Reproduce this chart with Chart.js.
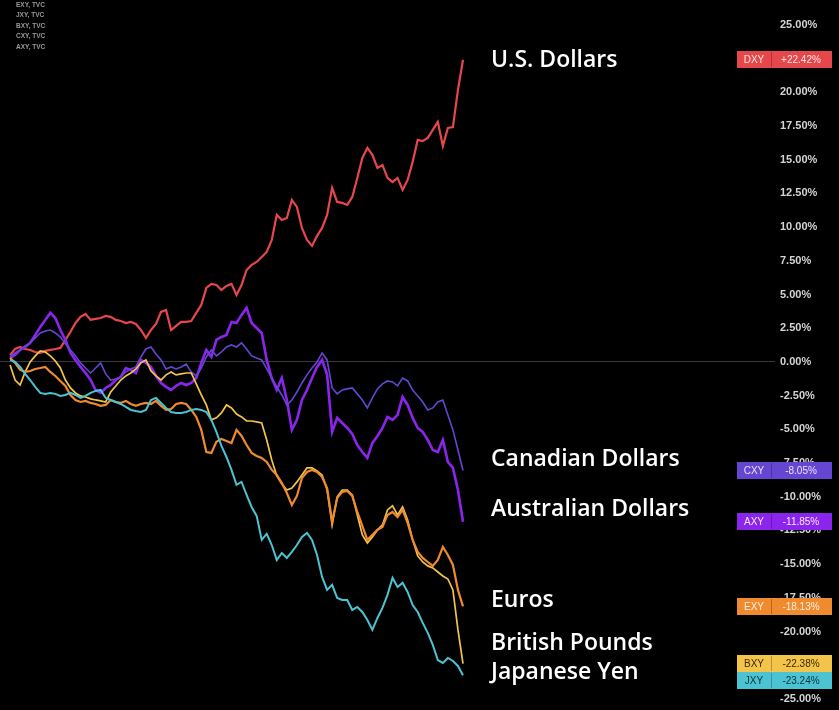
<!DOCTYPE html>
<html>
<head>
  <title>Currency indexes</title>
  <script src="https://cdn.jsdelivr.net/npm/chart.js"></script>
  <style>
    body { margin: 0; background: #000; }
  </style>
</head>
<body>
  <canvas id="myChart" width="839" height="710"></canvas>

  <script>
    // percent change, one point every ~5px of the original chart
    const dxy = [0.52, 0.96, 1.11, 0.96, 0.89, 0.74, 0.67, 0.82, 0.89, 0.96,
      1.04, 1.63, 2.23, 2.89, 3.34, 3.56, 3.12, 3.19, 3.26, 3.41,
      3.34, 3.12, 3.04, 2.89, 2.97, 2.82, 2.37, 1.78, 2.37, 2.82,
      3.71, 3.86, 2.37, 2.67, 2.97, 2.97, 3.04, 3.64, 4.23, 5.49,
      5.79, 5.71, 5.34, 5.64, 5.79, 4.97, 5.71, 6.82, 7.20, 7.42,
      7.79, 8.16, 9.05, 10.91, 10.53, 10.68, 12.02, 11.50, 9.94, 9.05,
      8.61, 9.35, 9.94, 10.91, 12.91, 11.87, 11.80, 11.65, 12.24, 13.65,
      15.13, 15.88, 15.36, 14.39, 14.61, 13.65, 13.35, 13.65, 12.76, 13.50,
      14.84, 16.47, 16.39, 16.62, 17.21, 17.80, 16.02, 17.36, 17.43, 20.18,
      22.42];
    const cxy = [0.37, 0.67, 0.89, 1.19, 1.41, 1.78, 2.15, 2.30, 2.37, 2.15,
      1.85, 1.34, 0.89, 0.45, -0.07, -0.45, -0.82, -0.45, -0.07, -0.89,
      -1.34, -1.26, -1.11, -0.74, -0.52, -0.37, 0.37, 0.96, 1.11, 0.59,
      0.15, -0.52, -0.37, -0.52, -0.37, -0.15, -0.74, -1.04, -0.45, 0.37,
      0.89, 0.45, 0.74, 1.11, 1.26, 1.11, 1.41, 0.96, 0.45, 0.30,
      0.15, -0.52, -1.19, -1.85, -2.45, -3.19, -2.82, -2.23, -1.56, -0.96,
      -0.45, 0.00, 0.67, 0.15, -1.93, -2.37, -2.08, -2.00, -1.93, -2.37,
      -2.82, -3.41, -2.67, -2.00, -1.63, -1.41, -1.48, -1.78, -1.19, -1.41,
      -2.08, -2.52, -2.97, -3.56, -3.41, -2.97, -2.82, -3.93, -5.04, -6.53,
      -8.05];
    const axy = [0.30, 0.52, 0.89, 1.11, 1.41, 2.00, 2.60, 3.12, 3.64, 3.26,
      2.37, 1.63, 0.67, 0.15, -0.37, -0.82, -1.34, -2.08, -2.30, -1.93,
      -1.71, -1.34, -1.11, -0.45, -0.59, -0.82, 0.15, -0.07, -0.37, -1.04,
      -1.56, -1.85, -2.08, -1.78, -1.56, -1.71, -1.56, -1.19, -0.07, 0.89,
      0.37, 1.63, 1.85, 2.00, 2.97, 2.89, 3.49, 4.01, 2.89, 2.52,
      2.15, 0.15, -1.19, -2.08, -1.19, -2.82, -5.04, -4.30, -2.82, -2.08,
      -1.19, -0.37, 0.15, -0.96, -5.19, -4.15, -4.53, -4.90, -5.34, -6.16,
      -6.68, -7.12, -6.01, -5.49, -4.90, -4.08, -4.30, -3.93, -2.60, -3.19,
      -4.15, -4.90, -5.19, -5.79, -6.53, -6.68, -5.79, -7.42, -7.86, -9.50,
      -11.85];
    const exy = [0.30, -0.07, -0.59, -0.74, -0.67, -0.52, -0.45, -0.37, -0.74, -1.04,
      -1.41, -1.78, -2.45, -2.82, -2.97, -2.89, -3.04, -3.12, -3.26, -3.19,
      -2.82, -2.97, -3.04, -2.89, -3.12, -3.26, -3.12, -3.04, -3.12, -2.89,
      -3.26, -3.56, -3.49, -3.12, -3.04, -3.12, -3.56, -4.08, -5.04, -6.68,
      -6.75, -5.93, -5.71, -5.86, -6.01, -5.04, -5.49, -6.16, -6.75, -6.97,
      -7.12, -7.42, -8.01, -8.38, -8.98, -9.72, -10.61, -9.94, -8.61, -8.16,
      -8.01, -8.16, -8.53, -9.35, -11.87, -10.09, -9.64, -9.57, -9.94, -11.13,
      -12.17, -13.20, -12.83, -12.46, -12.24, -11.35, -11.13, -11.50, -10.98, -11.94,
      -13.20, -14.09, -14.54, -14.84, -15.13, -14.69, -13.72, -14.32, -15.06, -16.91,
      -18.13];
    const bxy = [-0.22, -1.34, -1.71, -0.74, 0.00, 0.45, 0.82, 0.74, 0.45, 0.07,
      -0.45, -1.34, -1.93, -2.30, -2.52, -2.60, -2.74, -2.82, -2.89, -2.97,
      -2.23, -1.78, -1.34, -1.04, -0.82, -0.52, -0.07, 0.15, -0.67, -1.04,
      -1.34, -0.96, -0.74, -0.96, -0.89, -0.82, -0.82, -1.63, -2.45, -3.19,
      -4.30, -4.15, -3.78, -3.19, -3.41, -3.86, -4.08, -4.38, -4.38, -4.45,
      -4.53, -5.79, -7.27, -8.46, -9.05, -9.50, -9.35, -8.90, -8.38, -7.86,
      -7.86, -8.09, -8.38, -9.50, -12.09, -10.01, -9.50, -9.50, -9.87, -11.35,
      -12.83, -13.43, -12.98, -12.46, -12.09, -10.98, -10.68, -11.35, -10.76, -11.72,
      -13.20, -14.39, -14.84, -15.13, -15.28, -15.58, -15.88, -16.10, -16.91, -19.88,
      -22.38];
    const jxy = [0.15, 0.00, -0.37, -0.89, -1.34, -1.85, -2.30, -2.37, -2.30, -2.37,
      -2.52, -2.45, -2.30, -2.45, -2.67, -2.52, -2.30, -2.15, -2.08, -2.67,
      -2.82, -2.97, -3.12, -3.34, -3.56, -3.64, -3.71, -3.56, -2.82, -2.67,
      -3.04, -3.41, -3.71, -3.78, -3.78, -3.71, -3.56, -3.49, -3.56, -3.71,
      -4.30, -5.19, -6.23, -7.05, -8.01, -9.12, -8.90, -9.87, -10.76, -11.42,
      -13.20, -12.76, -13.58, -14.69, -14.17, -14.54, -14.09, -13.58, -12.98, -12.69,
      -13.20, -14.32, -15.95, -16.91, -16.54, -17.51, -17.66, -17.66, -18.40, -18.18,
      -18.55, -19.14, -19.88, -18.99, -18.25, -17.28, -16.02, -16.69, -16.39, -17.06,
      -18.03, -18.55, -19.36, -20.10, -20.99, -22.11, -22.33, -21.96, -22.18, -22.55,
      -23.24];

    const codes = ['DXY', 'CXY', 'AXY', 'EXY', 'BXY', 'JXY'];
    const names = ['U.S. Dollars', 'Canadian Dollars', 'Australian Dollars', 'Euros', 'British Pounds', 'Japanese Yen'];
    const symbols = ['EXY, TVC', 'JXY, TVC', 'BXY, TVC', 'CXY, TVC', 'AXY, TVC'];
    const yTicks = [25, 22.5, 20, 17.5, 15, 12.5, 10, 7.5, 5, 2.5, 0, -2.5, -5, -7.5, -10, -12.5, -15, -17.5, -20, -22.5, -25];

    const series = { DXY: dxy, CXY: cxy, AXY: axy, EXY: exy, BXY: bxy, JXY: jxy };
    const colors = { DXY: '#e6474b', CXY: '#6446d2', AXY: '#8b25ee', EXY: '#f08a2e', BXY: '#f4c44a', JXY: '#4cc3d3' };
    const widths = { DXY: 2.2, CXY: 1.6, AXY: 2.6, EXY: 2.2, BXY: 1.7, JXY: 2 };
    const tagText = { DXY: '#ffe4e4', CXY: '#e8e2ff', AXY: '#f4e8ff', EXY: '#fff0e0', BXY: '#3a2a00', JXY: '#08323a' };
    // label y positions (px) beside the line ends
    const labelY = { DXY: 60, CXY: 459, AXY: 509, EXY: 600, BXY: 643, JXY: 672 };

    const drawOrder = ['JXY', 'EXY', 'BXY', 'CXY', 'AXY', 'DXY'];
    const datasets = drawOrder.map(c => ({
      label: c,
      data: series[c].map((v, i) => ({ x: i, y: v })),
      borderColor: colors[c],
      borderWidth: widths[c],
      pointRadius: 0,
      tension: 0
    }));

    const overlay = {
      id: 'overlay',
      afterDraw(chart) {
        const ctx = chart.ctx;
        const y = chart.scales.y;
        ctx.save();

        // symbol list, top left
        ctx.font = 'bold 6.5px "Liberation Sans"';
        ctx.fillStyle = '#9a9a9a';
        ctx.textBaseline = 'middle';
        ctx.textAlign = 'left';
        symbols.forEach((s, i) => ctx.fillText(s, 16, 5 + i * 10.5));

        // big labels
        ctx.font = '600 23px "Open Sans"';
        ctx.fillStyle = '#ffffff';
        codes.forEach((c, i) => ctx.fillText(names[i], 491, labelY[c]));

        // value tags on the axis
        const tags = codes.map(c => {
          const arr = series[c];
          return { c, v: arr[arr.length - 1], py: y.getPixelForValue(arr[arr.length - 1]) };
        }).sort((a, b) => a.py - b.py);
        const h = 17;
        for (let i = 1; i < tags.length; i++) {
          if (tags[i].py < tags[i - 1].py + h) tags[i].py = tags[i - 1].py + h;
        }
        ctx.font = '10px "Liberation Sans"';
        tags.forEach(t => {
          const top = Math.round(t.py - h / 2);
          ctx.fillStyle = colors[t.c];
          ctx.fillRect(737, top, 95, h);
          ctx.fillStyle = 'rgba(0,0,0,0.25)';
          ctx.fillRect(771, top + 1, 1, h - 2);
          ctx.fillStyle = tagText[t.c];
          ctx.textAlign = 'center';
          ctx.fillText(t.c, 754, top + h / 2 + 0.5);
          const txt = (t.v > 0 ? '+' : '-') + Math.abs(t.v).toFixed(2) + '%';
          ctx.fillText(txt, 801, top + h / 2 + 0.5);
        });
        ctx.restore();
      }
    };

    const ctx = document.getElementById('myChart').getContext('2d');
    new Chart(ctx, {
      type: 'line',
      data: { datasets: datasets },
      options: {
        responsive: false,
        animation: false,
        layout: { padding: 0 },
        plugins: { legend: { display: false }, tooltip: { enabled: false } },
        scales: {
          x: { type: 'linear', min: -2, max: 152, display: false },
          y: {
            position: 'right',
            min: -25.82,
            max: 26.85,
            afterBuildTicks: s => { s.ticks = yTicks.map(v => ({ value: v })); },
            afterFit: s => { s.width = 64; s.paddingTop = 0; s.paddingBottom = 0; },
            border: { display: false },
            grid: {
              drawTicks: false,
              lineWidth: 1,
              color: c => (c.tick && c.tick.value === 0) ? '#3a3a3a' : 'rgba(0,0,0,0)'
            },
            ticks: {
              color: '#d4d4d4',
              padding: 5,
              font: { family: 'Liberation Sans', size: 11, weight: 'bold' },
              callback: v => v.toFixed(2) + '%'
            }
          }
        }
      },
      plugins: [overlay]
    });
  </script>
</body>
</html>
